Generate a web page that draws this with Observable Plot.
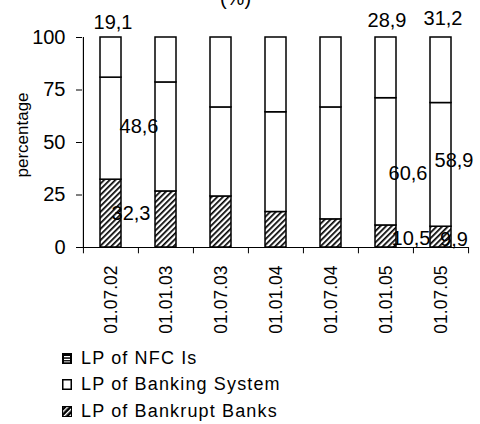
<!DOCTYPE html>
<html>
<head>
<meta charset="utf-8">
<script src="https://cdn.jsdelivr.net/npm/d3@7"></script>
<script src="https://cdn.jsdelivr.net/npm/@observablehq/plot@0.6"></script>
<style>
  body { margin: 0; background: white; font-family: "Liberation Sans", Arial, sans-serif; }
  #chart svg { overflow: visible; }
  .legend { padding-left: 62px; font-size: 18px; letter-spacing: 1.15px; color: #000; }
  .legend .row { display: flex; align-items: center; height: 26.5px; }
  .legend svg { margin-right: 9px; }
</style>
</head>
<body>
<div id="chart"></div>
<script>
const dates = ["01.07.02","01.01.03","01.07.03","01.01.04","01.07.04","01.01.05","01.07.05"];
const bankrupt = [32.3, 26.7, 24.3, 16.9, 13.4, 10.5, 9.9];
const banking  = [48.6, 51.9, 42.4, 47.5, 53.3, 60.6, 58.9];
const nfci     = [19.1, 21.4, 33.3, 35.6, 33.3, 28.9, 31.2];
const seriesNames = ["LP of Bankrupt Banks", "LP of Banking System", "LP of NFC Is"];
const yTicks = [0, 25, 50, 75, 100];
const labeledBars = [0, 5, 6];

const rows = [];
dates.forEach((d, i) => {
  rows.push({date: d, series: seriesNames[0], value: bankrupt[i]});
  rows.push({date: d, series: seriesNames[1], value: banking[i]});
  rows.push({date: d, series: seriesNames[2], value: nfci[i]});
});

// label offsets (px) relative to segment middle / top of bar
const offsets = {
  0: {b: [20, 0], s: [28, -2], n: [2, -15]},
  5: {b: [25, 2], s: [22, 12], n: [1, -17]},
  6: {b: [13, 2], s: [13, -4], n: [2, -19]}
};
const fmt = v => String(v).replace(".", ",");
const step = 386 / 7;

const labelMarks = [];
labeledBars.forEach(i => {
  const d = dates[i], o = offsets[i];
  const common = {x: "date", y: "y", text: "t", fontSize: 20, fill: "black"};
  labelMarks.push(Plot.text([{date: d, y: bankrupt[i] / 2, t: fmt(bankrupt[i])}], {...common, dx: o.b[0], dy: o.b[1]}));
  labelMarks.push(Plot.text([{date: d, y: bankrupt[i] + banking[i] / 2, t: fmt(banking[i])}], {...common, dx: o.s[0], dy: o.s[1]}));
  labelMarks.push(Plot.text([{date: d, y: bankrupt[i] + banking[i] + nfci[i], t: fmt(nfci[i])}], {...common, dx: o.n[0], dy: o.n[1]}));
});

const chart = Plot.plot({
  width: 480,
  height: 345,
  marginLeft: 82,
  marginRight: 12,
  marginTop: 37,
  marginBottom: 98,
  style: {fontFamily: "Liberation Sans, Arial, sans-serif", color: "black", background: "white"},
  x: {domain: dates, paddingInner: 0.62, paddingOuter: 0.31, align: 0.5},
  y: {domain: [0, 100]},
  color: {domain: seriesNames, range: ["url(#hatch)", "white", "white"]},
  marks: [
    Plot.barY(rows, {x: "date", y: "value", fill: "series", stroke: "black", strokeWidth: 1.5}),
    Plot.ruleY([0], {stroke: "black", strokeWidth: 1.2}),
    Plot.ruleX([dates[0]], {x: d => d, y1: 0, y2: 100, dx: -step / 2, stroke: "black", strokeWidth: 1.2}),
    Plot.ruleX(dates, {x: d => d, y1: 0, y2: -3, dx: -step / 2, stroke: "black", strokeWidth: 1}),
    Plot.ruleX([dates[6]], {x: d => d, y1: 0, y2: -3, dx: step / 2, stroke: "black", strokeWidth: 1}),
    Plot.axisY({ticks: yTicks, tickSize: 6, tickPadding: 11, fontSize: 20, label: null, tickFormat: d => d}),
    Plot.axisX({tickSize: 0, tickRotate: -90, tickPadding: 18, fontSize: 17.5, label: null}),
    Plot.text(["percentage"], {frameAnchor: "left", dx: -60, dy: 35, rotate: -90, fontSize: 17}),
    Plot.text(["(%)"], {frameAnchor: "top", dx: -40, dy: -47, fontSize: 20}),
    ...labelMarks
  ]
});

const ns = "http://www.w3.org/2000/svg";
const defs = document.createElementNS(ns, "defs");
defs.innerHTML = `<pattern id="hatch" patternUnits="userSpaceOnUse" width="4" height="4" patternTransform="rotate(45)">
  <rect width="4" height="4" fill="white"/><rect x="0" y="0" width="1.7" height="4" fill="black"/></pattern>`;
chart.insertBefore(defs, chart.firstChild);
document.getElementById("chart").appendChild(chart);

// legend
const legend = document.createElement("div");
legend.className = "legend";
const swatches = {
  "LP of NFC Is": `<svg width="10" height="11"><rect x="0.5" y="0.5" width="9" height="10" fill="black" stroke="black"/><rect x="2" y="3" width="6" height="1.3" fill="white"/><rect x="2" y="5.8" width="6" height="1.3" fill="white"/><rect x="2" y="8.4" width="6" height="0.9" fill="white"/></svg>`,
  "LP of Banking System": `<svg width="10" height="11"><rect x="0.75" y="0.75" width="8.5" height="9.5" fill="white" stroke="black" stroke-width="1.5"/></svg>`,
  "LP of Bankrupt Banks": `<svg width="10" height="11"><defs><pattern id="hatch2" patternUnits="userSpaceOnUse" width="4" height="4" patternTransform="rotate(45)"><rect width="4" height="4" fill="black"/><rect x="0" y="0" width="1.4" height="4" fill="white"/></pattern></defs><rect x="0.5" y="0.5" width="9" height="10" fill="url(#hatch2)" stroke="black"/></svg>`
};
["LP of NFC Is", "LP of Banking System", "LP of Bankrupt Banks"].forEach(name => {
  const row = document.createElement("div");
  row.className = "row";
  row.innerHTML = swatches[name] + `<span>${name}</span>`;
  legend.appendChild(row);
});
document.body.appendChild(legend);
</script>
</body>
</html>
